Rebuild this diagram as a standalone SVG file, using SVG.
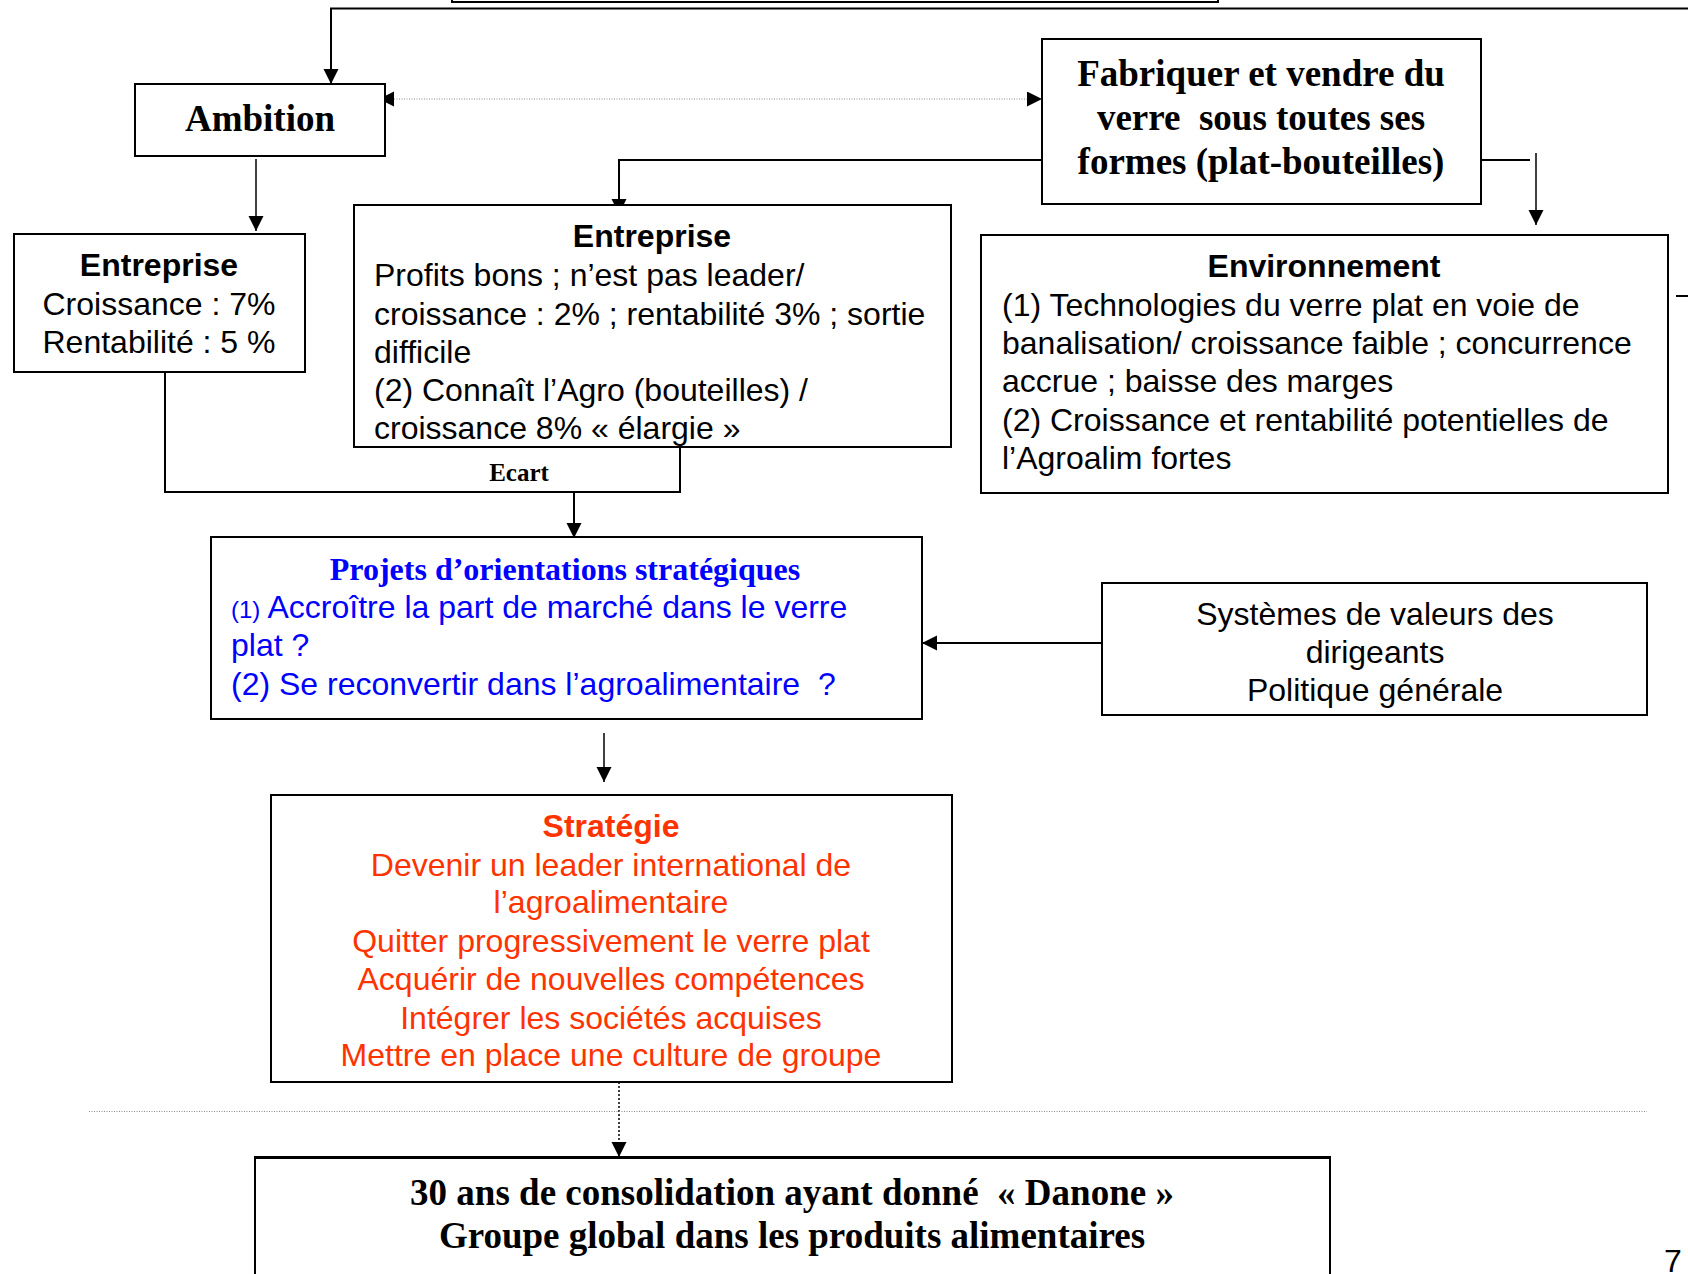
<svg xmlns="http://www.w3.org/2000/svg" width="1688" height="1274" viewBox="0 0 1688 1274">
  <style>
    .box { fill: #ffffff; stroke: #000000; stroke-width: 2; }
    .serif { font-family: "Liberation Serif", "Times New Roman", serif; font-weight: bold; fill: #000000; }
    .sans { font-family: "Liberation Sans", Arial, sans-serif; font-size: 32px; fill: #000000; }
    .b { font-weight: bold; }
    .mid { text-anchor: middle; }
    .blue { fill: #0000ff; }
    .red { fill: #ff3300; }
    .wire { fill: none; stroke: #000000; stroke-width: 2; }
    .thin { fill: none; stroke: #000000; stroke-width: 1.5; }
    .dots { fill: none; stroke: #8a8a8a; stroke-width: 1; stroke-dasharray: 1 1.5; }
    .dash { fill: none; stroke: #000000; stroke-width: 1.5; stroke-dasharray: 2 2; }
  </style>
  <defs>
    <marker id="arrow" markerUnits="userSpaceOnUse" markerWidth="16" markerHeight="16" refX="15" refY="7.5" orient="auto-start-reverse">
      <path d="M0,0 L15,7.5 L0,15 Z" fill="#000000"/>
    </marker>
  </defs>
  <rect x="0" y="0" width="1688" height="1274" fill="#ffffff"/>

  <!-- connectors -->
  <g id="connectors">
    <path class="wire" d="M1690,8.5 H331 V84" marker-end="url(#arrow)"/>
    <path class="dots" d="M379,99 H1042" marker-start="url(#arrow)" marker-end="url(#arrow)"/>
    <path class="thin" d="M256,159 V231" marker-end="url(#arrow)"/>
    <path class="wire" d="M1042,160 H619 V214" marker-end="url(#arrow)"/>
    <path class="wire" d="M1481,160 H1530"/>
    <path class="thin" d="M1536,153 V225" marker-end="url(#arrow)"/>
    <path class="wire" d="M1676,296 H1688"/>
    <path class="wire" d="M165,372 V492 H680 V441"/>
    <path class="wire" d="M574,492 V538" marker-end="url(#arrow)"/>
    <path class="wire" d="M1102,643 H922" marker-end="url(#arrow)"/>
    <path class="thin" d="M604,733 V782" marker-end="url(#arrow)"/>
    <path class="dash" d="M619,1062 V1157" marker-end="url(#arrow)"/>
    <path class="dots" d="M89,1111.5 H1647"/>
    <text class="serif mid" x="519" y="481" font-size="25">Ecart</text>
  </g>

  <!-- top heading box, cut by the page edge -->
  <g id="node-top">
    <rect class="box" x="452" y="-10" width="766" height="12"/>
  </g>

  <g id="node-ambition">
    <rect class="box" x="135" y="84" width="250" height="72"/>
    <text class="serif mid" x="260" y="131" font-size="37">Ambition</text>
  </g>

  <g id="node-mission">
    <rect class="box" x="1042" y="39" width="439" height="165"/>
    <text class="serif mid" x="1261" y="86" font-size="37" xml:space="preserve">Fabriquer et vendre du</text>
    <text class="serif mid" x="1261" y="130" font-size="37" xml:space="preserve">verre  sous toutes ses</text>
    <text class="serif mid" x="1261" y="174" font-size="37" xml:space="preserve">formes (plat-bouteilles)</text>
  </g>

  <g id="node-objectifs">
    <rect class="box" x="14" y="234" width="291" height="138"/>
    <text class="sans b mid" x="159" y="276">Entreprise</text>
    <text class="sans mid" x="159" y="315">Croissance : 7%</text>
    <text class="sans mid" x="159" y="353">Rentabilité : 5 %</text>
  </g>

  <g id="node-entreprise">
    <rect class="box" x="354" y="205" width="597" height="242"/>
    <text class="sans b mid" x="652" y="247">Entreprise</text>
    <text class="sans" x="374" y="286">Profits bons ; n’est pas leader/</text>
    <text class="sans" x="374" y="325">croissance : 2% ; rentabilité 3% ; sortie</text>
    <text class="sans" x="374" y="363">difficile</text>
    <text class="sans" x="374" y="401">(2) Connaît l’Agro (bouteilles) /</text>
    <text class="sans" x="374" y="439">croissance 8% « élargie »</text>
  </g>

  <g id="node-environnement">
    <rect class="box" x="981" y="235" width="687" height="258"/>
    <text class="sans b mid" x="1324" y="277">Environnement</text>
    <text class="sans" x="1002" y="316">(1) Technologies du verre plat en voie de</text>
    <text class="sans" x="1002" y="354">banalisation/ croissance faible ; concurrence</text>
    <text class="sans" x="1002" y="392">accrue ; baisse des marges</text>
    <text class="sans" x="1002" y="431">(2) Croissance et rentabilité potentielles de</text>
    <text class="sans" x="1002" y="469">l’Agroalim fortes</text>
  </g>

  <g id="node-projets">
    <rect class="box" x="211" y="537" width="711" height="182"/>
    <text class="serif mid blue" x="565" y="580" font-size="32">Projets d’orientations stratégiques</text>
    <text class="sans blue" x="231" y="618"><tspan font-size="24">(1)</tspan> Accroître la part de marché dans le verre</text>
    <text class="sans blue" x="231" y="656">plat ?</text>
    <text class="sans blue" x="231" y="695" xml:space="preserve">(2) Se reconvertir dans l’agroalimentaire  ?</text>
  </g>

  <g id="node-valeurs">
    <rect class="box" x="1102" y="583" width="545" height="132"/>
    <text class="sans mid" x="1375" y="625">Systèmes de valeurs des</text>
    <text class="sans mid" x="1375" y="663">dirigeants</text>
    <text class="sans mid" x="1375" y="701">Politique générale</text>
  </g>

  <g id="node-strategie">
    <rect class="box" x="271" y="795" width="681" height="287"/>
    <text class="sans b mid red" x="611" y="837">Stratégie</text>
    <text class="sans mid red" x="611" y="876">Devenir un leader international de</text>
    <text class="sans mid red" x="611" y="913">l’agroalimentaire</text>
    <text class="sans mid red" x="611" y="952">Quitter progressivement le verre plat</text>
    <text class="sans mid red" x="611" y="990">Acquérir de nouvelles compétences</text>
    <text class="sans mid red" x="611" y="1029">Intégrer les sociétés acquises</text>
    <text class="sans mid red" x="611" y="1066">Mettre en place une culture de groupe</text>
  </g>

  <g id="node-danone">
    <rect class="box" x="255" y="1157" width="1075" height="140"/>
    <line x1="255" y1="1158" x2="1330" y2="1158" stroke="#000000" stroke-width="2"/>
    <text class="serif mid" x="792" y="1205" font-size="37" xml:space="preserve">30 ans de consolidation ayant donné  « Danone »</text>
    <text class="serif mid" x="792" y="1248" font-size="37">Groupe global dans les produits alimentaires</text>
  </g>

  <!-- page number -->
  <text class="sans" x="1664" y="1272">7</text>
</svg>
